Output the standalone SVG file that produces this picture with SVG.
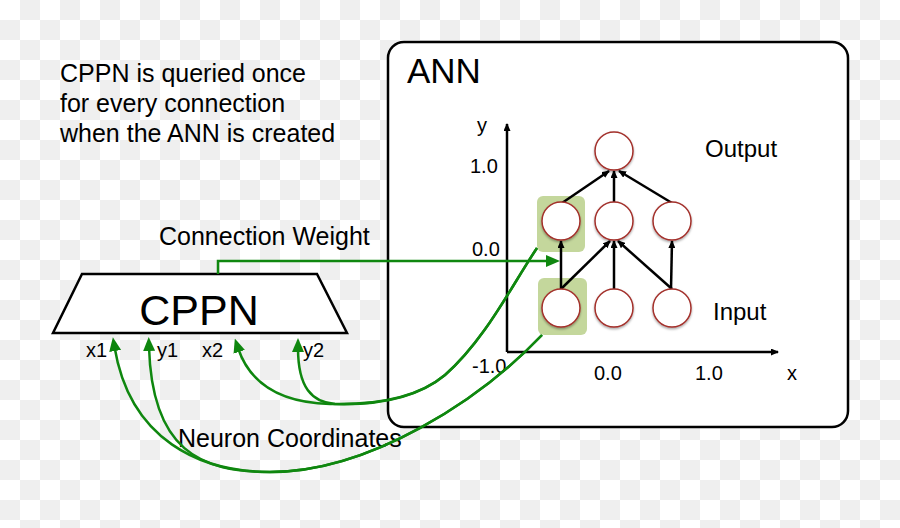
<svg xmlns="http://www.w3.org/2000/svg" width="900" height="528" viewBox="0 0 900 528">
  <defs>
    <pattern id="cb" width="40" height="40" patternUnits="userSpaceOnUse">
      <rect width="40" height="40" fill="#ffffff"/>
      <rect x="20" y="0" width="20" height="20" fill="#efefef"/>
      <rect x="0" y="20" width="20" height="20" fill="#efefef"/>
    </pattern>
    <marker id="ga" markerUnits="userSpaceOnUse" markerWidth="14" markerHeight="12" viewBox="0 0 14 12" refX="4" refY="6" orient="auto">
      <path d="M0,0 L14,6 L0,12 z" fill="#0f870f"/>
    </marker>
    <marker id="ba" markerUnits="userSpaceOnUse" markerWidth="8" markerHeight="7" viewBox="0 0 8 7" refX="7" refY="3.5" orient="auto">
      <path d="M0,0 L8,3.5 L0,7 z" fill="#000"/>
    </marker>
    <filter id="sh" x="-30%" y="-30%" width="160%" height="160%">
      <feDropShadow dx="0" dy="1.5" stdDeviation="1" flood-color="#000" flood-opacity="0.35"/>
    </filter>
  </defs>
  <style>
    .t { font-family: "Liberation Sans", Arial, sans-serif; fill: #000; }
    .box { fill: #fff; stroke: #000; stroke-width: 2.5; }
    .neuron { fill: #fff; stroke: #a3302c; stroke-width: 1.5; filter: url(#sh); }
    .hl { fill: #c4d79c; }
    .edge { stroke: #000; stroke-width: 2.5; fill: none; marker-end: url(#ba); }
    .gl { stroke: #0f870f; stroke-width: 2.5; fill: none; marker-end: url(#ga); }
  </style>

  <rect width="900" height="528" fill="url(#cb)"/>

  <g id="note">
    <text class="t" font-size="25" x="60" y="82">CPPN is queried once</text>
    <text class="t" font-size="25" x="60" y="112">for every connection</text>
    <text class="t" font-size="25" x="60" y="142">when the ANN is created</text>
  </g>

  <g id="ann">
    <rect class="box" x="388" y="42" width="460" height="385" rx="16"/>
    <text class="t" font-size="35" x="407" y="83">ANN</text>
  </g>

  <g id="axes">
    <line x1="507" y1="352" x2="507" y2="124" stroke="#000" stroke-width="2.5" marker-end="url(#ba)"/>
    <line x1="507" y1="352" x2="778" y2="352" stroke="#000" stroke-width="2.5" marker-end="url(#ba)"/>
    <text class="t" font-size="20" x="477" y="132">y</text>
    <text class="t" font-size="20" x="470" y="173">1.0</text>
    <text class="t" font-size="20" x="472" y="256">0.0</text>
    <text class="t" font-size="20" x="472" y="373">-1.0</text>
    <text class="t" font-size="20" x="594" y="380">0.0</text>
    <text class="t" font-size="20" x="695" y="380">1.0</text>
    <text class="t" font-size="20" x="787" y="380">x</text>
    <text class="t" font-size="24" x="705" y="157">Output</text>
    <text class="t" font-size="24" x="713" y="320">Input</text>
  </g>

  <g id="highlights">
    <rect class="hl" x="537" y="196" width="48" height="56" rx="6"/>
    <rect class="hl" x="538" y="278" width="49" height="57" rx="6"/>
  </g>

  <g id="ann-edges">
    <line class="edge" x1="562" y1="203" x2="609" y2="171"/>
    <line class="edge" x1="614" y1="202" x2="614" y2="171"/>
    <line class="edge" x1="672" y1="203" x2="619" y2="171"/>
    <line class="edge" x1="561" y1="289" x2="561" y2="241"/>
    <line class="edge" x1="561" y1="289" x2="610" y2="241"/>
    <line class="edge" x1="614" y1="289" x2="614" y2="241"/>
    <line class="edge" x1="672" y1="289" x2="618" y2="241"/>
    <line class="edge" x1="671" y1="289" x2="672" y2="241"/>
  </g>

  <g id="neuron-out"><circle class="neuron" cx="614" cy="151" r="19"/></g>
  <g id="neuron-h1"><circle class="neuron" cx="561" cy="221" r="19"/></g>
  <g id="neuron-h2"><circle class="neuron" cx="614" cy="221" r="19"/></g>
  <g id="neuron-h3"><circle class="neuron" cx="672" cy="221" r="19"/></g>
  <g id="neuron-i1"><circle class="neuron" cx="561" cy="308" r="19"/></g>
  <g id="neuron-i2"><circle class="neuron" cx="614" cy="308" r="19"/></g>
  <g id="neuron-i3"><circle class="neuron" cx="672" cy="308" r="19"/></g>

  <g id="cppn">
    <path class="box" d="M82,274 L317,274 L347,333 L53,333 Z"/>
    <text class="t" font-size="43" x="199" y="325" text-anchor="middle">CPPN</text>
    <text class="t" font-size="20" x="86" y="357">x1</text>
    <text class="t" font-size="20" x="157" y="357">y1</text>
    <text class="t" font-size="20" x="202" y="357">x2</text>
    <text class="t" font-size="20" x="303" y="357">y2</text>
  </g>

  <g id="labels">
    <text class="t" font-size="25" x="159" y="245">Connection Weight</text>
    <text class="t" font-size="25" x="178" y="447">Neuron Coordinates</text>
  </g>

  <g id="connectors">
    <path class="gl" d="M218,274 V261 H550"/>
    <path class="gl" d="M542,335 C480,400 370,472 270,472 C200,472 130,440 114.5,347"/>
    <path class="gl" d="M542,335 C480,400 370,472 270,472 C200,472 152,450 149,347"/>
    <path class="gl" d="M537,248 C512,285 485,340 445,375 C415,400 370,405 330,404 C290,403 252,390 238,348"/>
    <path class="gl" d="M537,248 C512,285 485,340 445,375 C415,400 370,405 335,404 C312,402 298,388 298,348"/>
  </g>
</svg>
